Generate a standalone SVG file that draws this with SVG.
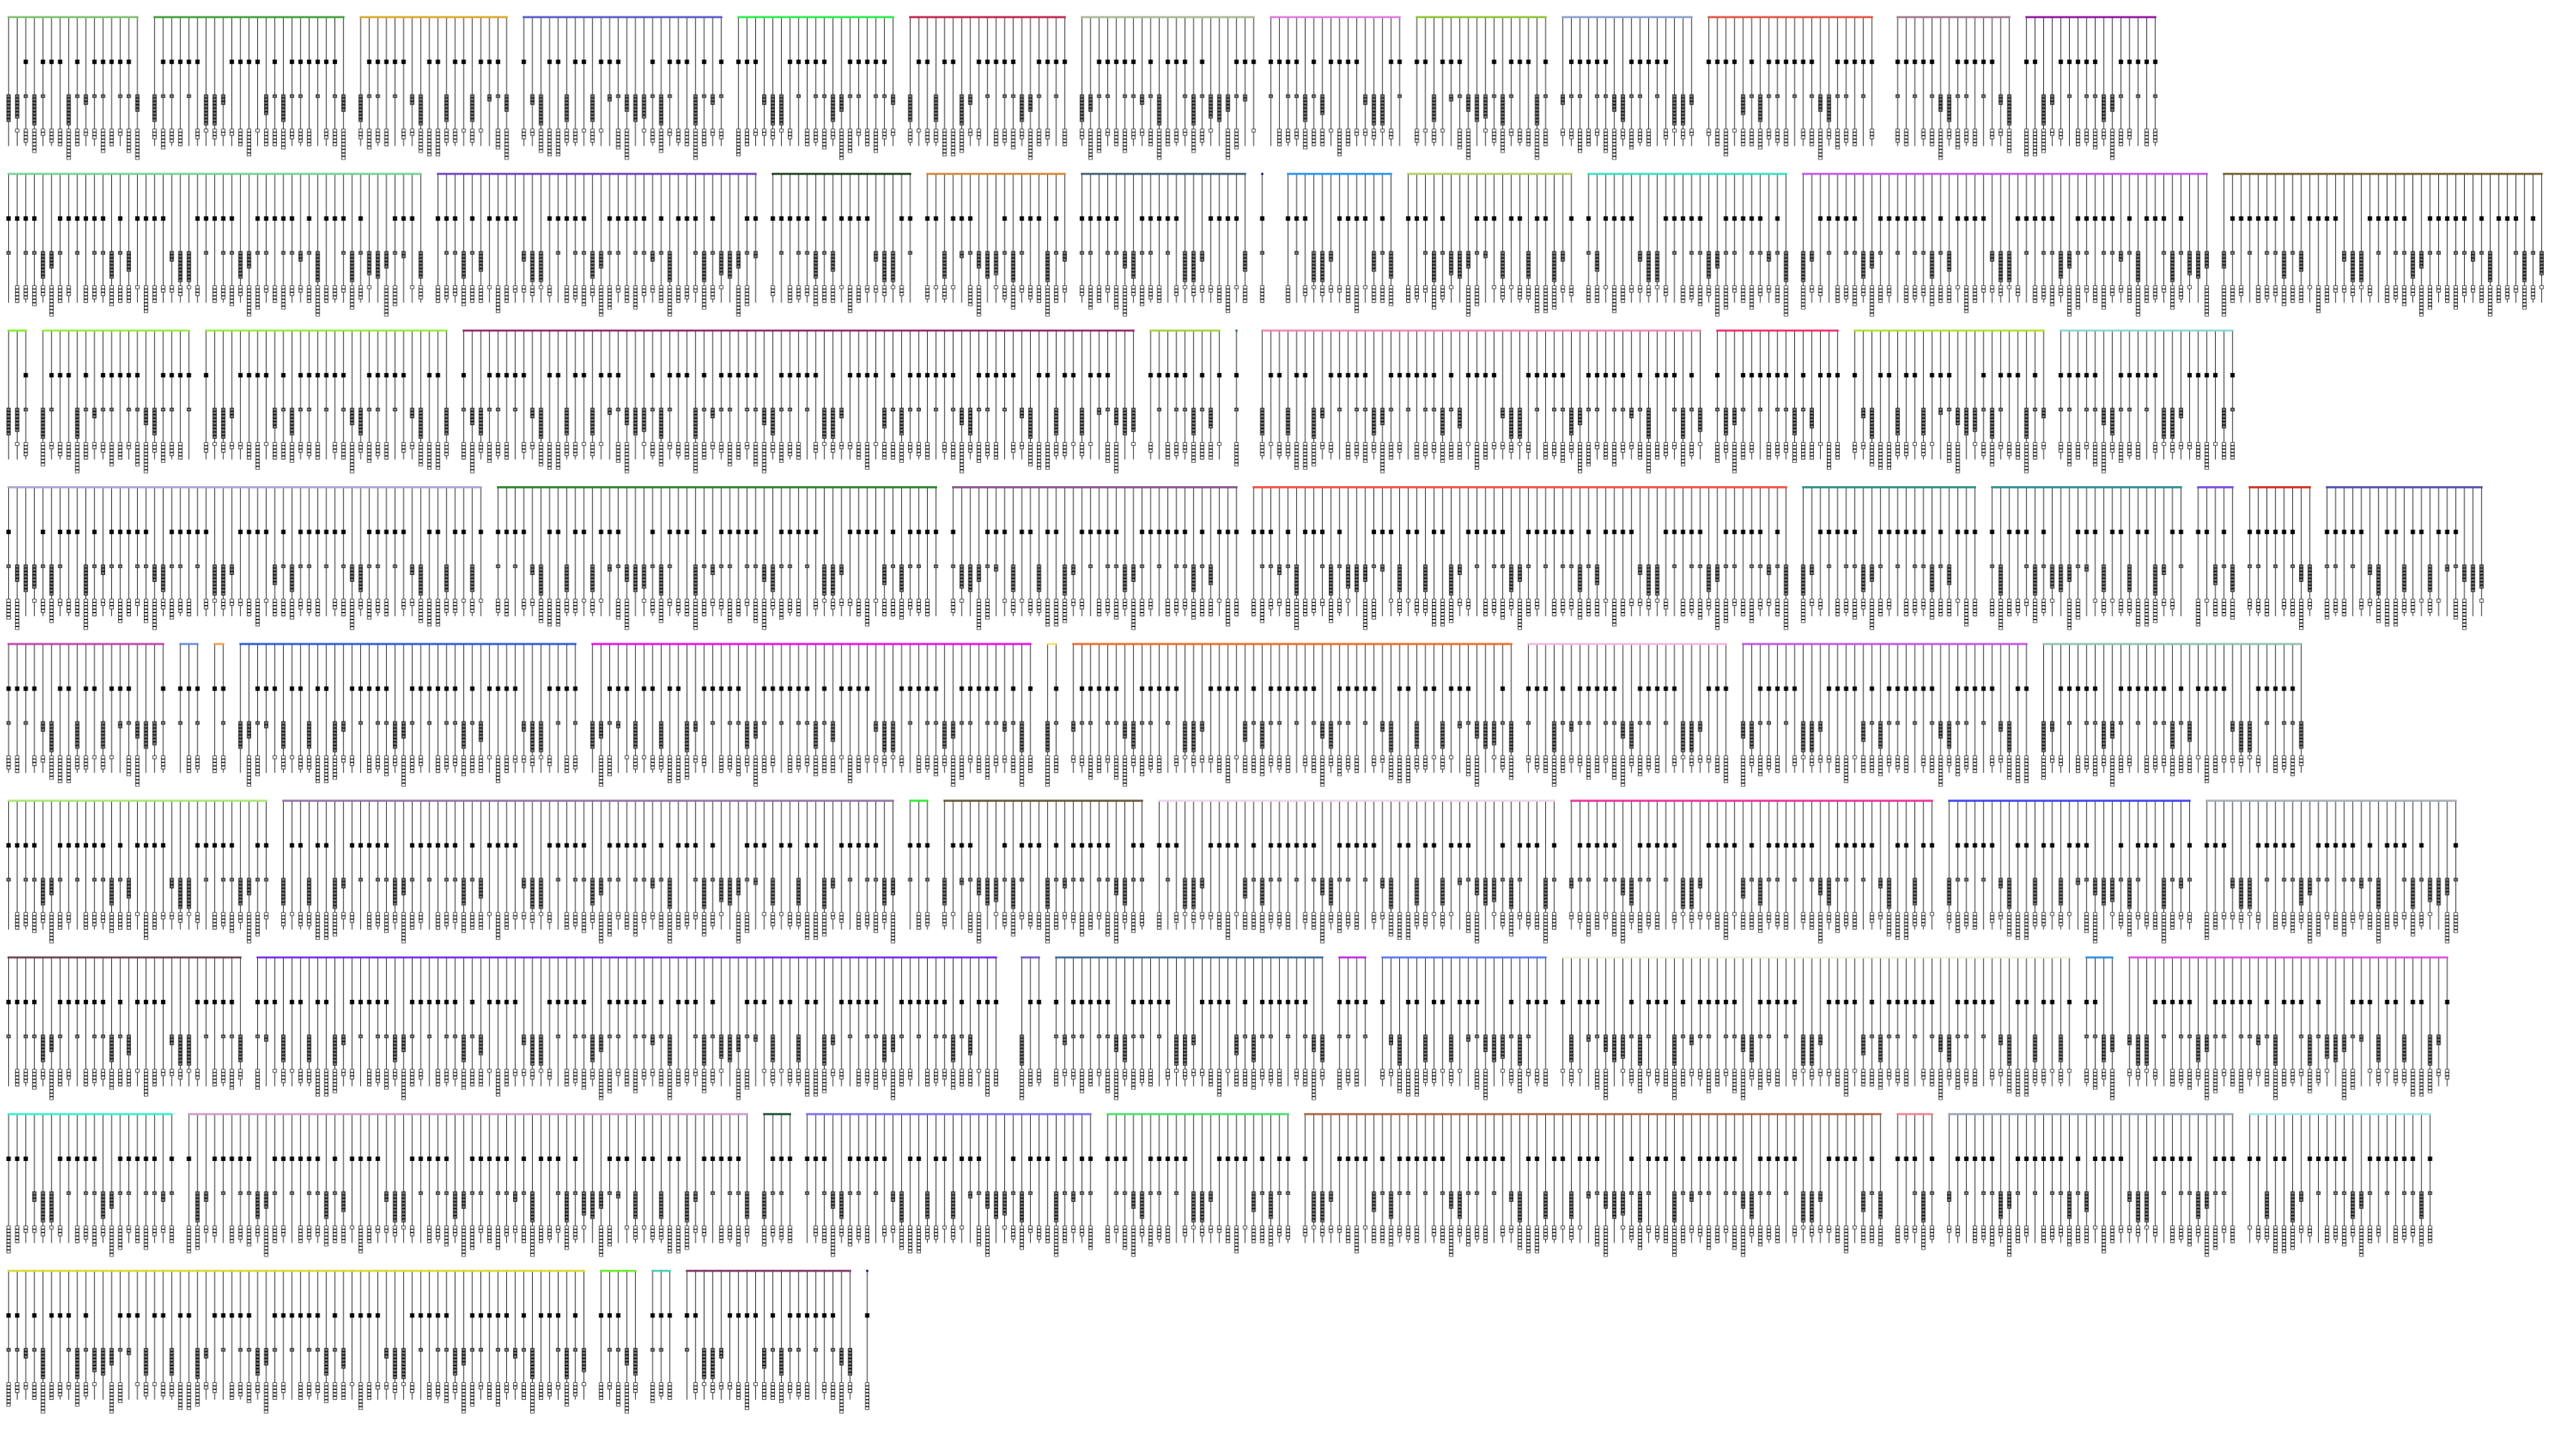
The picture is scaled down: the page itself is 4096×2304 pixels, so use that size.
<svg xmlns="http://www.w3.org/2000/svg" xmlns:xlink="http://www.w3.org/1999/xlink" width="4096" height="2304" viewBox="0 0 4096 2304">
<style>
.ln{stroke:#000;stroke-width:300;stroke-dasharray:1.5 18.5;fill:none}
.bk{stroke:#000;stroke-width:10;fill:none}
.kb{stroke:#000;stroke-width:9.5;fill:none}
.kg{stroke:#7a7a7a;stroke-width:7;stroke-dasharray:5.5 2.5;stroke-dashoffset:6.75;fill:none}
.kw{stroke:#fff;stroke-width:7;stroke-dasharray:5.5 2.5;stroke-dashoffset:6.75;fill:none}
.bar{stroke-width:5;stroke-linecap:square;stroke-opacity:.9}
</style>
<defs>
<path id="g" d="M10 220v64M30 220v56M50 220v8M70 220v72M90 220v8M150 220v72M170 220v8M190 220v24M210 220v8M230 220v8M270 220v8M290 220v8M310 220v40M330 220v64M350 220v8M370 220v8M410 220v8M450 220v72M470 220v72M490 220v24M590 220v48M610 220v8M630 220v64M650 220v8M670 220v8M710 220v8M750 220v8M770 220v40M790 220v64M810 220v8M830 220v8M870 220v8M910 220v24M930 220v72M990 220v64M1050 220v64M1090 220v16M1110 220v8M1130 220v40"/>
<path id="w" d="M30 300v8M50 300v32M70 300v56M90 300v16M110 300v32M130 300v40M150 300v72M170 300v40M190 300v16M210 300v24M230 300v56M250 300v40M270 300v16M290 300v56M310 300v72M330 300v24M350 300v48M370 300v32M390 300v40M430 300v24M450 300v8M470 300v24M490 300v16M510 300v16M530 300v40M550 300v64M570 300v8M590 300v40M610 300v40M630 300v48M650 300v24M670 300v32M690 300v40M730 300v24M750 300v40M770 300v72M790 300v24M810 300v48M830 300v32M850 300v40M890 300v24M910 300v16M930 300v56M950 300v64M970 300v64M990 300v32M1010 300v32M1030 300v8M1050 300v32M1070 300v8M1110 300v48M1130 300v72"/>
<pattern id="A" patternUnits="userSpaceOnUse" x="10" y="0" width="1140" height="380">
<path class="ln" d="M9.25 190H1140"/>
<path class="bk" d="M45 144h10M85 144h10M105 144h10M125 144h10M165 144h10M205 144h10M225 144h10M245 144h10M265 144h10M285 144h10M345 144h10M365 144h10M385 144h10M405 144h10M425 144h10M505 144h10M525 144h10M545 144h10M565 144h10M605 144h10M645 144h10M665 144h10M685 144h10M705 144h10M725 144h10M745 144h10M805 144h10M825 144h10M845 144h10M865 144h10M885 144h10M945 144h10M965 144h10M1005 144h10M1025 144h10M1065 144h10M1085 144h10M1105 144h10"/>
<use xlink:href="#g" class="kb"/><use xlink:href="#g" class="kg"/>
<use xlink:href="#w" class="kb"/><use xlink:href="#w" class="kw"/>
</pattern>
<pattern id="B" xlink:href="#A" x="30"/>
<pattern id="C" xlink:href="#A" x="50"/>
<pattern id="D" xlink:href="#A" x="330"/>
<pattern id="E" xlink:href="#A" x="10" patternTransform="scale(-1 1)"/>
<pattern id="F" xlink:href="#A" x="250" patternTransform="scale(-1 1)"/>
<pattern id="G" xlink:href="#A" x="570" patternTransform="scale(-1 1)"/>
<pattern id="H" xlink:href="#A" x="890" patternTransform="scale(-1 1)"/>
</defs>
<rect width="4096" height="2304" fill="#fff"/>
<g transform="scale(0.682667)">
<g id="nodes">
<g id="row1">
<g id="n1-1"><rect x="10" y="36" width="320" height="344" fill="url(#A)"/></g>
<g id="n1-2"><rect x="350" y="36" width="460" height="344" fill="url(#B)"/></g>
<g id="n1-3"><rect x="830" y="36" width="360" height="344" fill="url(#C)"/></g>
<g id="n1-4"><rect x="1210" y="36" width="480" height="344" fill="url(#D)"/></g>
<g id="n1-5"><rect x="1710" y="36" width="380" height="344" fill="url(#E)"/></g>
<g id="n1-6"><rect x="2110" y="36" width="380" height="344" fill="url(#F)"/></g>
<g id="n1-7"><rect x="2510" y="36" width="420" height="344" fill="url(#G)"/></g>
<g id="n1-8"><rect x="2950" y="36" width="320" height="344" fill="url(#H)"/></g>
<g id="n1-9"><rect x="3290" y="36" width="320" height="344" fill="url(#A)"/></g>
<g id="n1-10"><rect x="3630" y="36" width="320" height="344" fill="url(#B)"/></g>
<g id="n1-11"><rect x="3970" y="36" width="400" height="344" fill="url(#C)"/></g>
<g id="n1-12"><rect x="4410" y="36" width="280" height="344" fill="url(#D)"/></g>
<g id="n1-13"><rect x="4710" y="36" width="320" height="344" fill="url(#E)"/></g>
</g>
<g id="row2" transform="translate(0 365)">
<g id="n2-1"><rect x="10" y="36" width="980" height="344" fill="url(#F)"/></g>
<g id="n2-2"><rect x="1010" y="36" width="760" height="344" fill="url(#G)"/></g>
<g id="n2-3"><rect x="1790" y="36" width="340" height="344" fill="url(#H)"/></g>
<g id="n2-4"><rect x="2150" y="36" width="340" height="344" fill="url(#A)"/></g>
<g id="n2-5"><rect x="2510" y="36" width="400" height="344" fill="url(#B)"/></g>
<g id="n2-6"><rect x="2930" y="36" width="20" height="344" fill="url(#C)"/></g>
<g id="n2-7"><rect x="2990" y="36" width="260" height="344" fill="url(#D)"/></g>
<g id="n2-8"><rect x="3270" y="36" width="400" height="344" fill="url(#E)"/></g>
<g id="n2-9"><rect x="3690" y="36" width="480" height="344" fill="url(#F)"/></g>
<g id="n2-10"><rect x="4190" y="36" width="960" height="344" fill="url(#G)"/></g>
<g id="n2-11"><rect x="5170" y="36" width="760" height="344" fill="url(#H)"/></g>
</g>
<g id="row3" transform="translate(0 730)">
<g id="n3-1"><rect x="10" y="36" width="60" height="344" fill="url(#A)"/></g>
<g id="n3-2"><rect x="90" y="36" width="360" height="344" fill="url(#B)"/></g>
<g id="n3-3"><rect x="470" y="36" width="580" height="344" fill="url(#C)"/></g>
<g id="n3-4"><rect x="1070" y="36" width="1580" height="344" fill="url(#D)"/></g>
<g id="n3-5"><rect x="2670" y="36" width="180" height="344" fill="url(#E)"/></g>
<g id="n3-6"><rect x="2870" y="36" width="20" height="344" fill="url(#F)"/></g>
<g id="n3-7"><rect x="2930" y="36" width="1040" height="344" fill="url(#G)"/></g>
<g id="n3-8"><rect x="3990" y="36" width="300" height="344" fill="url(#H)"/></g>
<g id="n3-9"><rect x="4310" y="36" width="460" height="344" fill="url(#A)"/></g>
<g id="n3-10"><rect x="4790" y="36" width="420" height="344" fill="url(#B)"/></g>
</g>
<g id="row4" transform="translate(0 1095)">
<g id="n4-1"><rect x="10" y="36" width="1120" height="344" fill="url(#C)"/></g>
<g id="n4-2"><rect x="1150" y="36" width="1040" height="344" fill="url(#D)"/></g>
<g id="n4-3"><rect x="2210" y="36" width="680" height="344" fill="url(#E)"/></g>
<g id="n4-4"><rect x="2910" y="36" width="1260" height="344" fill="url(#F)"/></g>
<g id="n4-5"><rect x="4190" y="36" width="420" height="344" fill="url(#G)"/></g>
<g id="n4-6"><rect x="4630" y="36" width="460" height="344" fill="url(#H)"/></g>
<g id="n4-7"><rect x="5110" y="36" width="100" height="344" fill="url(#A)"/></g>
<g id="n4-8"><rect x="5230" y="36" width="160" height="344" fill="url(#B)"/></g>
<g id="n4-9"><rect x="5410" y="36" width="380" height="344" fill="url(#C)"/></g>
</g>
<g id="row5" transform="translate(0 1460)">
<g id="n5-1"><rect x="10" y="36" width="380" height="344" fill="url(#D)"/></g>
<g id="n5-2"><rect x="410" y="36" width="60" height="344" fill="url(#E)"/></g>
<g id="n5-3"><rect x="490" y="36" width="40" height="344" fill="url(#F)"/></g>
<g id="n5-4"><rect x="550" y="36" width="800" height="344" fill="url(#G)"/></g>
<g id="n5-5"><rect x="1370" y="36" width="1040" height="344" fill="url(#H)"/></g>
<g id="n5-6"><rect x="2430" y="36" width="40" height="344" fill="url(#A)"/></g>
<g id="n5-7"><rect x="2490" y="36" width="1040" height="344" fill="url(#B)"/></g>
<g id="n5-8"><rect x="3550" y="36" width="480" height="344" fill="url(#C)"/></g>
<g id="n5-9"><rect x="4050" y="36" width="680" height="344" fill="url(#D)"/></g>
<g id="n5-10"><rect x="4750" y="36" width="620" height="344" fill="url(#E)"/></g>
</g>
<g id="row6" transform="translate(0 1825)">
<g id="n6-1"><rect x="10" y="36" width="620" height="344" fill="url(#F)"/></g>
<g id="n6-2"><rect x="650" y="36" width="1440" height="344" fill="url(#G)"/></g>
<g id="n6-3"><rect x="2110" y="36" width="60" height="344" fill="url(#H)"/></g>
<g id="n6-4"><rect x="2190" y="36" width="480" height="344" fill="url(#A)"/></g>
<g id="n6-5"><rect x="2690" y="36" width="940" height="344" fill="url(#B)"/></g>
<g id="n6-6"><rect x="3650" y="36" width="860" height="344" fill="url(#C)"/></g>
<g id="n6-7"><rect x="4530" y="36" width="580" height="344" fill="url(#D)"/></g>
<g id="n6-8"><rect x="5130" y="36" width="600" height="344" fill="url(#E)"/></g>
</g>
<g id="row7" transform="translate(0 2190)">
<g id="n7-1"><rect x="10" y="36" width="560" height="344" fill="url(#F)"/></g>
<g id="n7-2"><rect x="590" y="36" width="1740" height="344" fill="url(#G)"/></g>
<g id="n7-3"><rect x="2370" y="36" width="60" height="344" fill="url(#H)"/></g>
<g id="n7-4"><rect x="2450" y="36" width="640" height="344" fill="url(#A)"/></g>
<g id="n7-5"><rect x="3110" y="36" width="80" height="344" fill="url(#B)"/></g>
<g id="n7-6"><rect x="3210" y="36" width="400" height="344" fill="url(#C)"/></g>
<g id="n7-7"><rect x="3630" y="36" width="1200" height="344" fill="url(#D)"/></g>
<g id="n7-8"><rect x="4850" y="36" width="80" height="344" fill="url(#E)"/></g>
<g id="n7-9"><rect x="4950" y="36" width="760" height="344" fill="url(#F)"/></g>
</g>
<g id="row8" transform="translate(0 2555)">
<g id="n8-1"><rect x="10" y="36" width="400" height="344" fill="url(#G)"/></g>
<g id="n8-2"><rect x="430" y="36" width="1320" height="344" fill="url(#H)"/></g>
<g id="n8-3"><rect x="1770" y="36" width="80" height="344" fill="url(#A)"/></g>
<g id="n8-4"><rect x="1870" y="36" width="680" height="344" fill="url(#B)"/></g>
<g id="n8-5"><rect x="2570" y="36" width="440" height="344" fill="url(#C)"/></g>
<g id="n8-6"><rect x="3030" y="36" width="1360" height="344" fill="url(#D)"/></g>
<g id="n8-7"><rect x="4410" y="36" width="100" height="344" fill="url(#E)"/></g>
<g id="n8-8"><rect x="4530" y="36" width="680" height="344" fill="url(#F)"/></g>
<g id="n8-9"><rect x="5230" y="36" width="440" height="344" fill="url(#G)"/></g>
</g>
<g id="row9" transform="translate(0 2920)">
<g id="n9-1"><rect x="10" y="36" width="1360" height="344" fill="url(#H)"/></g>
<g id="n9-2"><rect x="1390" y="36" width="100" height="344" fill="url(#A)"/></g>
<g id="n9-3"><rect x="1510" y="36" width="60" height="344" fill="url(#B)"/></g>
<g id="n9-4"><rect x="1590" y="36" width="400" height="344" fill="url(#C)"/></g>
<g id="n9-5"><rect x="2010" y="36" width="20" height="344" fill="url(#D)"/></g>
</g>
</g>
<g id="connectors" class="bar">
<line x1="20" y1="40" x2="320" y2="40" stroke="#7fbf6f"/>
<line x1="360" y1="40" x2="800" y2="40" stroke="#3f9f3a"/>
<line x1="840" y1="40" x2="1180" y2="40" stroke="#dba628"/>
<line x1="1220" y1="40" x2="1680" y2="40" stroke="#5555cc"/>
<line x1="1720" y1="40" x2="2080" y2="40" stroke="#22ee44"/>
<line x1="2120" y1="40" x2="2480" y2="40" stroke="#c0204a"/>
<line x1="2520" y1="40" x2="2920" y2="40" stroke="#a8b890"/>
<line x1="2960" y1="40" x2="3260" y2="40" stroke="#e07ae0"/>
<line x1="3300" y1="40" x2="3600" y2="40" stroke="#8cc432"/>
<line x1="3640" y1="40" x2="3940" y2="40" stroke="#8aa0c8"/>
<line x1="3980" y1="40" x2="4360" y2="40" stroke="#e05040"/>
<line x1="4420" y1="40" x2="4680" y2="40" stroke="#a07890"/>
<line x1="4720" y1="40" x2="5020" y2="40" stroke="#9010a0"/>
<line x1="20" y1="405" x2="980" y2="405" stroke="#70d090"/>
<line x1="1020" y1="405" x2="1760" y2="405" stroke="#6a3cc0"/>
<line x1="1800" y1="405" x2="2120" y2="405" stroke="#143a14"/>
<line x1="2160" y1="405" x2="2480" y2="405" stroke="#d0852e"/>
<line x1="2520" y1="405" x2="2900" y2="405" stroke="#3a5a6a"/>
<line x1="2940" y1="405" x2="2940" y2="405" stroke="#000080"/>
<line x1="3000" y1="405" x2="3240" y2="405" stroke="#2290f0"/>
<line x1="3280" y1="405" x2="3660" y2="405" stroke="#b0cc60"/>
<line x1="3700" y1="405" x2="4160" y2="405" stroke="#30e0c0"/>
<line x1="4200" y1="405" x2="5140" y2="405" stroke="#c050f0"/>
<line x1="5180" y1="405" x2="5920" y2="405" stroke="#6e5a2a"/>
<line x1="20" y1="770" x2="60" y2="770" stroke="#80f020"/>
<line x1="100" y1="770" x2="440" y2="770" stroke="#90f030"/>
<line x1="480" y1="770" x2="1040" y2="770" stroke="#90f030"/>
<line x1="1080" y1="770" x2="2640" y2="770" stroke="#8c1a66"/>
<line x1="2680" y1="770" x2="2840" y2="770" stroke="#a0d030"/>
<line x1="2880" y1="770" x2="2880" y2="770" stroke="#207070"/>
<line x1="2940" y1="770" x2="3960" y2="770" stroke="#f080b0"/>
<line x1="4000" y1="770" x2="4280" y2="770" stroke="#f02060"/>
<line x1="4320" y1="770" x2="4760" y2="770" stroke="#b0e020"/>
<line x1="4800" y1="770" x2="5200" y2="770" stroke="#80d8d0"/>
<line x1="20" y1="1135" x2="1120" y2="1135" stroke="#ab9fcc"/>
<line x1="1160" y1="1135" x2="2180" y2="1135" stroke="#1e7a1e"/>
<line x1="2220" y1="1135" x2="2880" y2="1135" stroke="#7e4a7e"/>
<line x1="2920" y1="1135" x2="4160" y2="1135" stroke="#ee4433"/>
<line x1="4200" y1="1135" x2="4600" y2="1135" stroke="#208a7a"/>
<line x1="4640" y1="1135" x2="5080" y2="1135" stroke="#208888"/>
<line x1="5120" y1="1135" x2="5200" y2="1135" stroke="#7040e0"/>
<line x1="5240" y1="1135" x2="5380" y2="1135" stroke="#cc2010"/>
<line x1="5420" y1="1135" x2="5780" y2="1135" stroke="#4545a8"/>
<line x1="20" y1="1500" x2="380" y2="1500" stroke="#c040a8"/>
<line x1="420" y1="1500" x2="460" y2="1500" stroke="#6688dd"/>
<line x1="500" y1="1500" x2="520" y2="1500" stroke="#f0a050"/>
<line x1="560" y1="1500" x2="1340" y2="1500" stroke="#2255dd"/>
<line x1="1380" y1="1500" x2="2400" y2="1500" stroke="#ee00ee"/>
<line x1="2440" y1="1500" x2="2460" y2="1500" stroke="#f0e070"/>
<line x1="2500" y1="1500" x2="3520" y2="1500" stroke="#ee6622"/>
<line x1="3560" y1="1500" x2="4020" y2="1500" stroke="#f0b8e0"/>
<line x1="4060" y1="1500" x2="4720" y2="1500" stroke="#c050f0"/>
<line x1="4760" y1="1500" x2="5360" y2="1500" stroke="#90c0b0"/>
<line x1="20" y1="1865" x2="620" y2="1865" stroke="#a8e870"/>
<line x1="660" y1="1865" x2="2080" y2="1865" stroke="#9070a8"/>
<line x1="2120" y1="1865" x2="2160" y2="1865" stroke="#22ee22"/>
<line x1="2200" y1="1865" x2="2660" y2="1865" stroke="#605030"/>
<line x1="2700" y1="1865" x2="3620" y2="1865" stroke="#ecd4ec"/>
<line x1="3660" y1="1865" x2="4500" y2="1865" stroke="#f02898"/>
<line x1="4540" y1="1865" x2="5100" y2="1865" stroke="#3a3af0"/>
<line x1="5140" y1="1865" x2="5720" y2="1865" stroke="#a4acb4"/>
<line x1="20" y1="2230" x2="560" y2="2230" stroke="#603848"/>
<line x1="600" y1="2230" x2="2320" y2="2230" stroke="#7020f0"/>
<line x1="2380" y1="2230" x2="2420" y2="2230" stroke="#7050c8"/>
<line x1="2460" y1="2230" x2="3080" y2="2230" stroke="#306494"/>
<line x1="3120" y1="2230" x2="3180" y2="2230" stroke="#c020e0"/>
<line x1="3220" y1="2230" x2="3600" y2="2230" stroke="#5070f0"/>
<line x1="3640" y1="2230" x2="4820" y2="2230" stroke="#eeeed8"/>
<line x1="4860" y1="2230" x2="4920" y2="2230" stroke="#2288dd"/>
<line x1="4960" y1="2230" x2="5700" y2="2230" stroke="#e044e0"/>
<line x1="20" y1="2595" x2="400" y2="2595" stroke="#30f0d0"/>
<line x1="440" y1="2595" x2="1740" y2="2595" stroke="#cc99cc"/>
<line x1="1780" y1="2595" x2="1840" y2="2595" stroke="#104a28"/>
<line x1="1880" y1="2595" x2="2540" y2="2595" stroke="#7a6af0"/>
<line x1="2580" y1="2595" x2="3000" y2="2595" stroke="#44e066"/>
<line x1="3040" y1="2595" x2="4380" y2="2595" stroke="#a86040"/>
<line x1="4420" y1="2595" x2="4500" y2="2595" stroke="#f08090"/>
<line x1="4540" y1="2595" x2="5200" y2="2595" stroke="#98a4b4"/>
<line x1="5240" y1="2595" x2="5660" y2="2595" stroke="#a0e8e8"/>
<line x1="20" y1="2960" x2="1360" y2="2960" stroke="#d8d830"/>
<line x1="1400" y1="2960" x2="1480" y2="2960" stroke="#66f022"/>
<line x1="1520" y1="2960" x2="1560" y2="2960" stroke="#40d0b0"/>
<line x1="1600" y1="2960" x2="1980" y2="2960" stroke="#803060"/>
<line x1="2020" y1="2960" x2="2020" y2="2960" stroke="#000080"/>
</g>
</g>
</svg>
